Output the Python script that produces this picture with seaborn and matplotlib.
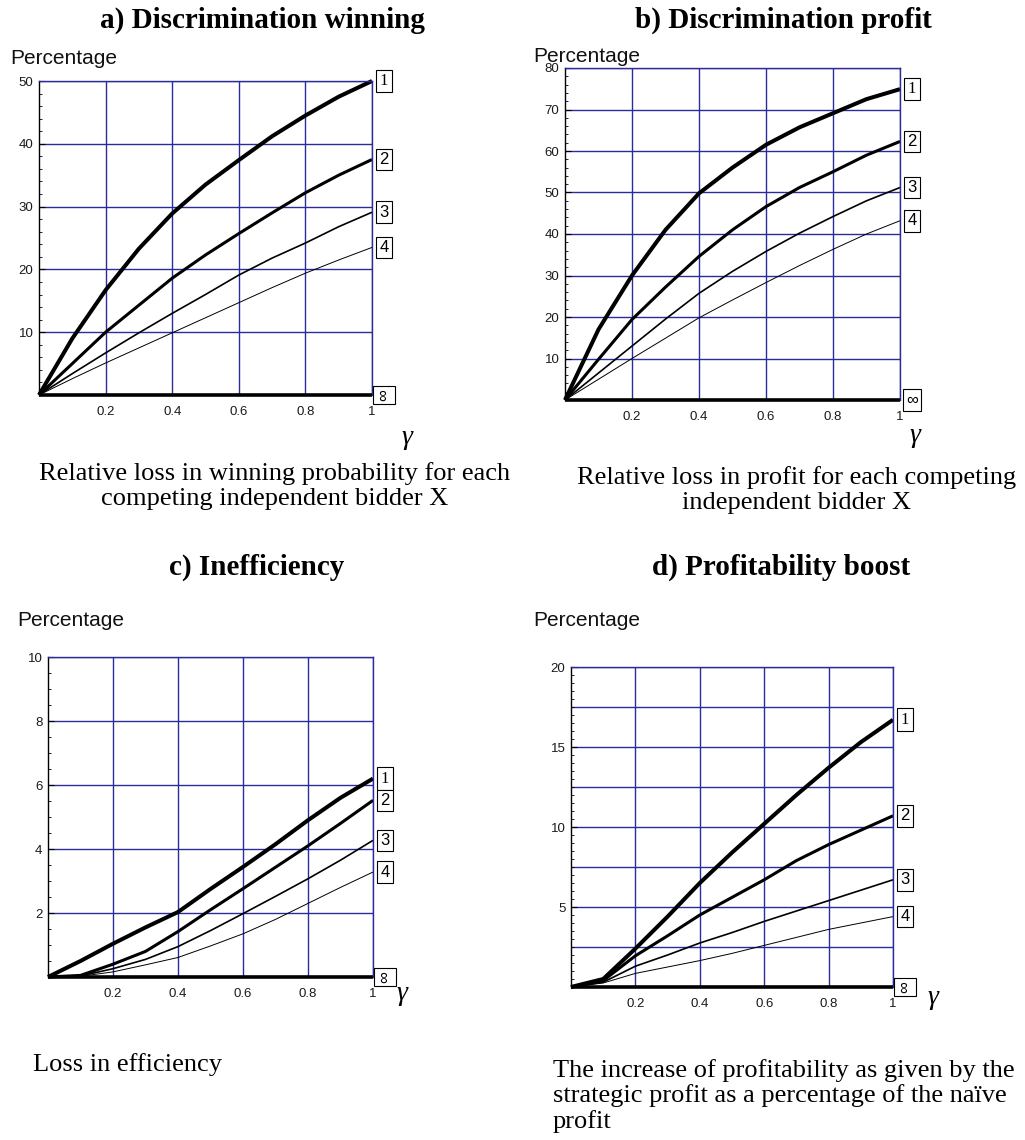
import matplotlib
matplotlib.use("Agg")
import matplotlib.pyplot as plt
import seaborn as sns
import numpy as np
from matplotlib.ticker import MultipleLocator, FixedLocator

# gamma grid shared by all panels
gamma = [0.0, 0.1, 0.2, 0.3, 0.4, 0.5, 0.6, 0.7, 0.8, 0.9, 1.0]

# a) Discrimination winning
win_1 = [0, 9.0, 16.7, 23.3, 28.9, 33.5, 37.4, 41.2, 44.5, 47.5, 50.0]
win_2 = [0, 5.0, 10.0, 14.3, 18.6, 22.3, 25.7, 29.0, 32.2, 35.0, 37.5]
win_3 = [0, 3.4, 6.7, 9.9, 13.0, 16.0, 19.1, 21.8, 24.2, 26.8, 29.1]
win_4 = [0, 2.6, 5.1, 7.5, 9.9, 12.3, 14.7, 17.1, 19.4, 21.5, 23.5]

# b) Discrimination profit
prof_1 = [0, 17.0, 30.0, 41.0, 49.8, 56.0, 61.5, 65.7, 69.1, 72.5, 74.9]
prof_2 = [0, 9.8, 19.4, 27.2, 34.6, 41.0, 46.6, 51.2, 55.0, 59.0, 62.3]
prof_3 = [0, 6.5, 13.0, 19.5, 25.7, 31.0, 35.8, 40.2, 44.2, 48.0, 51.2]
prof_4 = [0, 5.0, 10.0, 14.9, 19.8, 24.1, 28.3, 32.4, 36.3, 40.0, 43.2]

# c) Inefficiency
ineff_1 = [0, 0.50, 1.04, 1.55, 2.03, 2.75, 3.44, 4.15, 4.90, 5.60, 6.20]
ineff_2 = [0, 0.05, 0.40, 0.80, 1.42, 2.10, 2.76, 3.43, 4.10, 4.80, 5.52]
ineff_3 = [0, 0.03, 0.26, 0.55, 0.95, 1.45, 1.98, 2.52, 3.07, 3.65, 4.27]
ineff_4 = [0, 0.02, 0.16, 0.38, 0.61, 0.97, 1.35, 1.80, 2.30, 2.80, 3.28]

# d) Profitability boost
boost_1 = [0, 0.5, 2.4, 4.4, 6.5, 8.4, 10.2, 12.0, 13.7, 15.3, 16.7]
boost_2 = [0, 0.4, 1.95, 3.2, 4.5, 5.6, 6.7, 7.9, 8.9, 9.8, 10.7]
boost_3 = [0, 0.3, 1.3, 2.0, 2.75, 3.4, 4.1, 4.75, 5.4, 6.05, 6.7]
boost_4 = [0, 0.25, 0.85, 1.25, 1.65, 2.1, 2.6, 3.1, 3.6, 4.0, 4.4]

infinity = [0] * len(gamma)
curve_names = ["1", "2", "3", "4", "\u221e"]
x_ticks = [0.2, 0.4, 0.6, 0.8, 1.0]
x_ticklabels = ["0.2", "0.4", "0.6", "0.8", "1"]

sns.set_style("white")
plt.rcParams['font.family'] = ['Liberation Sans', 'DejaVu Sans']
plt.rcParams['text.color'] = 'black'

GRID = "#2b2b9b"
widths = [2.9, 2.2, 1.2, 0.7, 2.6]
serif = ['Liberation Serif', 'DejaVu Serif']

fig = plt.figure(figsize=(10.25, 11.4), dpi=100)


def px(x, y):
    return x / 1025, 1 - y / 1140


def panel(rect, series, ymax, ystep, yminor, rotate_inf, gamma_xy, perc_xy):
    ax = fig.add_axes(rect)
    for vals, lw in zip(series + [infinity], widths):
        sns.lineplot(x=gamma, y=vals, ax=ax, color="black", linewidth=lw)
    for ln in ax.lines:
        ln.set_clip_on(False)
        ln.set_solid_capstyle("butt")
    ax.set_xlim(0, 1)
    ax.set_ylim(0, ymax)
    ax.xaxis.set_major_locator(FixedLocator(x_ticks))
    ax.set_xticklabels(x_ticklabels)
    yt = list(np.arange(ystep, ymax + 0.01, ystep))
    ax.yaxis.set_major_locator(FixedLocator(yt))
    ax.set_yticklabels([f"{v:g}" for v in yt])
    ax.yaxis.set_minor_locator(MultipleLocator(yminor))
    ax.grid(True, which="major", color=GRID, linewidth=1.0)
    ax.tick_params(axis="x", length=0, pad=8, labelsize=9.5, labelcolor="#1a1a1a")
    ax.tick_params(axis="y", which="both", direction="in", left=True,
                   labelsize=9.5, labelcolor="#1a1a1a", pad=4, color="black")
    ax.tick_params(axis="y", which="major", length=4, width=0.8)
    ax.tick_params(axis="y", which="minor", length=2.5, width=0.6)
    ax.spines["left"].set_color("black")
    ax.spines["left"].set_linewidth(1.0)
    ax.spines["bottom"].set_visible(False)
    for s in ["top", "right"]:
        ax.spines[s].set_color(GRID)
        ax.spines[s].set_linewidth(1.0)
    ax.set_xlabel("")
    ax.set_ylabel("")

    # boxed curve labels at the right end
    for name, vals in zip(curve_names, series + [infinity]):
        fam = serif if name == "1" else ['Liberation Sans', 'DejaVu Sans']
        rot = 90 if (name == "\u221e" and rotate_inf) else 0
        ax.annotate(name, xy=(1, vals[-1]), xycoords=("axes fraction", "data"),
                    xytext=(12, 0), textcoords="offset pixels",
                    ha="center", va="center", fontsize=12, family=fam,
                    rotation=rot, annotation_clip=False,
                    bbox=dict(boxstyle="square,pad=0.2", fc="white",
                              ec="black", lw=0.8))

    fig.text(*px(*gamma_xy), "\u03b3", fontsize=20, style="italic",
             family=serif, ha="center", va="center")
    fig.text(*px(*perc_xy), "Percentage", fontsize=15, ha="left", va="center",
             color="#111111")
    return ax


panel([39 / 1025, 1 - 395 / 1140, 333 / 1025, 314 / 1140],
      [win_1, win_2, win_3, win_4], 50, 10, 2, True, (407, 438), (10, 58))
panel([565 / 1025, 1 - 400 / 1140, 335 / 1025, 332 / 1140],
      [prof_1, prof_2, prof_3, prof_4], 80, 10, 2, False, (915, 435), (533, 56))
panel([48 / 1025, 1 - 977 / 1140, 325 / 1025, 320 / 1140],
      [ineff_1, ineff_2, ineff_3, ineff_4], 10, 2, 0.5, True, (402, 993), (17, 620))
ax_d = panel([571 / 1025, 1 - 987 / 1140, 322 / 1025, 320 / 1140],
             [boost_1, boost_2, boost_3, boost_4], 20, 5, 0.5, True, (933, 997), (533, 620))
# extra horizontal grid at every 2.5 in panel d
for yv in [2.5, 7.5, 12.5, 17.5]:
    ax_d.axhline(yv, color=GRID, linewidth=1.0, zorder=0.5)

# titles
title_kw = dict(fontsize=21, fontweight="bold", family=serif, ha="center", va="center",
                color="black")
fig.text(*px(262, 20), "a) Discrimination winning", **title_kw)
fig.text(*px(783, 20), "b) Discrimination profit", **title_kw)
fig.text(*px(257, 567), "c) Inefficiency", **title_kw)
fig.text(*px(781, 567), "d) Profitability boost", **title_kw)

# captions
cap_kw = dict(fontsize=19, family=serif, va="center", color="black")
fig.text(*px(275, 486), "Relative loss in winning probability for each\ncompeting independent bidder X",
         ha="center", multialignment="center", linespacing=1.2, **cap_kw)
fig.text(*px(797, 490), "Relative loss in profit for each competing\nindependent bidder X",
         ha="center", multialignment="center", linespacing=1.15, **cap_kw)
fig.text(*px(33, 1065), "Loss in efficiency", ha="left", **cap_kw)
fig.text(*px(553, 1096), "The increase of profitability as given by the\nstrategic profit as a percentage of the na\u00efve\nprofit",
         ha="left", multialignment="left", linespacing=1.12, **cap_kw)

fig.savefig("out.png", dpi=100)
